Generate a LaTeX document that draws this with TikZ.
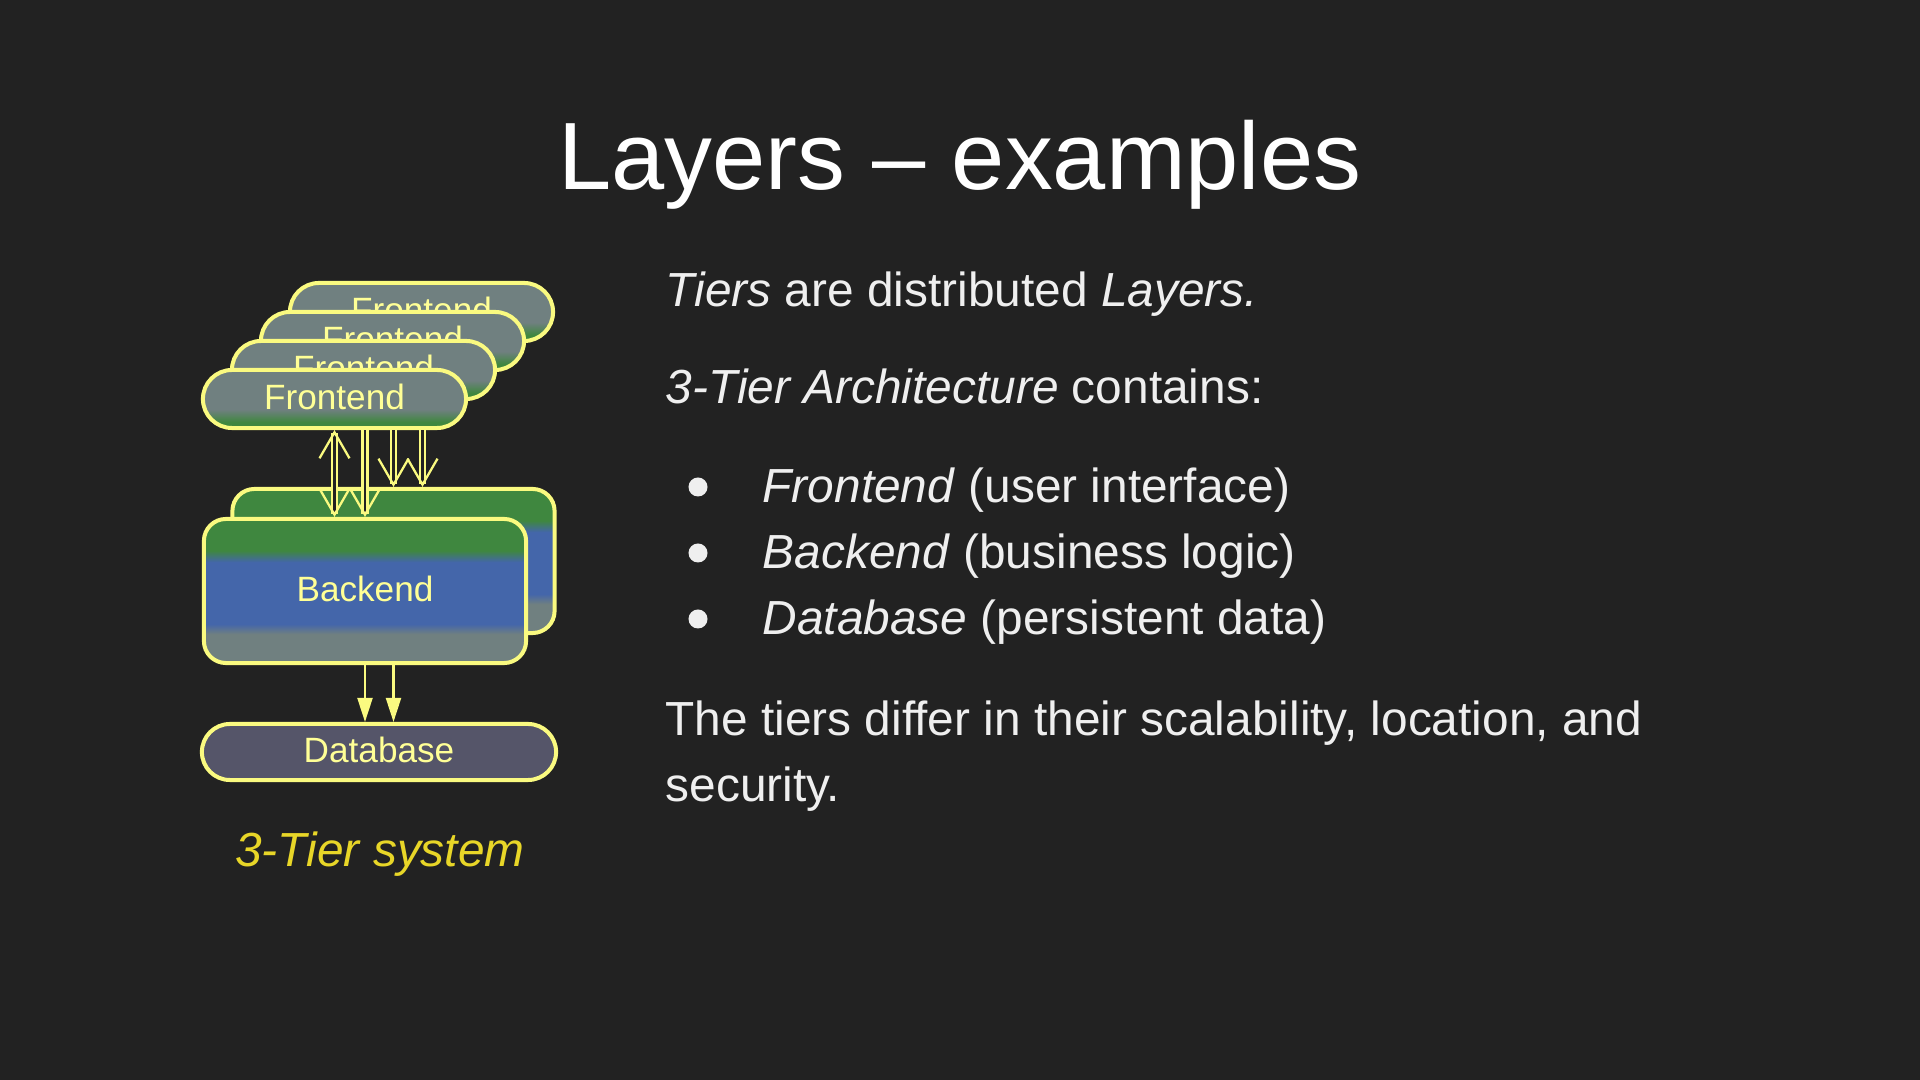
\documentclass[tikz,border=0pt]{standalone}
\usepackage{fontspec}
\setmainfont{Liberation Sans}
\usetikzlibrary{shapes.misc,arrows.meta,calc}

\definecolor{bg}{HTML}{222222}
\definecolor{bodytext}{HTML}{EFEFEF}
\definecolor{rim}{HTML}{FAFA80}
\definecolor{boxtext}{HTML}{FFFF96}
\definecolor{capgold}{HTML}{E8D628}
\definecolor{slate}{HTML}{708080}
\definecolor{leaf}{HTML}{3F873F}
\definecolor{ocean}{HTML}{4466AA}
\definecolor{dbfill}{HTML}{555569}

\pgfdeclareverticalshading{frontshade}{100bp}{color(0bp)=(leaf); color(30bp)=(leaf); color(41bp)=(slate); color(100bp)=(slate)}
\pgfdeclareverticalshading{backshade}{100bp}{color(0bp)=(slate); color(35bp)=(slate); color(38.5bp)=(ocean); color(60bp)=(ocean); color(64bp)=(leaf); color(100bp)=(leaf)}

\tikzset{TIER/.style={draw=rim, line width=1.14pt, text=boxtext, inner sep=0pt, text depth=0.05cm, font=\fontsize{10}{12}\selectfont},
	vee/.tip={Straight Barb[length=0.26cm,width=0.30cm,line width=0.65pt]}
}

\begin{document}
\begin{tikzpicture}[x=0.01cm, y=-0.01cm]
	\tikzstyle{front} = [TIER, rounded rectangle, shade, shading=frontshade, minimum width=2.63cm, minimum height=0.58cm]
	\tikzstyle{back} = [TIER, rectangle, rounded corners=0.22cm, shade, shading=backshade, minimum width=3.22cm, minimum height=1.44cm]
	\tikzstyle{store} = [TIER, rounded rectangle, fill=dbfill, minimum width=3.54cm, minimum height=0.56cm]
	\tikzstyle{dbl} = [draw=rim, line width=0.6pt, double=bg, double distance=0.85pt]
	\tikzstyle{single} = [draw=rim, line width=0.6pt, -{Triangle[length=0.24cm,width=0.15cm]}]
	\tikzstyle{body} = [anchor=base west, text=bodytext, inner sep=0pt, font=\fontsize{13.6}{18.8}\selectfont]
	\tikzstyle{dot} = [circle, fill=bodytext, inner sep=0pt, minimum size=0.19cm]
	
	\fill[bg] (0,0) rectangle (1920,1080);
	
	\node[anchor=base, text=white, inner sep=0pt, font=\fontsize{27.2}{33}\selectfont] (title) at (960,190) {Layers – examples};
	
	% frontends, back to front
	\foreach \i/\x/\y in {3/421.5/312, 2/392.5/341, 1/363.5/370, 0/334.5/399}
		\node[front] (fe\i) at (\x,\y) {Frontend};
	
	\node[back] (be1) at (393.5,561) {};
	\node[back] (be0) at (365,591) {Backend};
	\node[store] (db) at (379,752) {Database};
	
	\draw[dbl, vee-vee] (fe0.south) -- (fe0.south |- be0.north);
	\draw[dbl, -vee] (be0.north |- fe0.south) -- (be0.north);
	\draw[dbl, -vee] (be1.north |- fe0.south) -- (be1.north);
	\draw[dbl, -vee] ($(be1.north |- fe0.south)+(29,0)$) -- ($(be1.north)+(29,0)$);
	
	\draw[single] (be0.south) -- (be0.south |- db.north);
	\draw[single] (be1.south |- be0.south) -- (be1.south |- db.north);
	
	\node[anchor=base, text=capgold, inner sep=0pt, font=\fontsize{13.6}{16}\selectfont\itshape] (caption) at (380,867) {3-Tier system};
	
	\node[body] (line1) at (665,307) {\textit{Tiers} are distributed \textit{Layers.}};
	\node[body] (line2) at (665,404) {\textit{3-Tier Architecture} contains:};
	\foreach \n/\y/\a/\b in {1/503/Frontend/user interface, 2/569/Backend/business logic, 3/635/Database/persistent data}{
		\node[dot] (dot\n) at (698,\y-16) {};
		\node[body] (item\n) at (762,\y) {\textit{\a} (\b)};
	}
	\node[body] (line3) at (665,736) {The tiers differ in their scalability, location, and};
	\node[body] (line4) at (665,802) {security.};
	
\end{tikzpicture}
\end{document}
